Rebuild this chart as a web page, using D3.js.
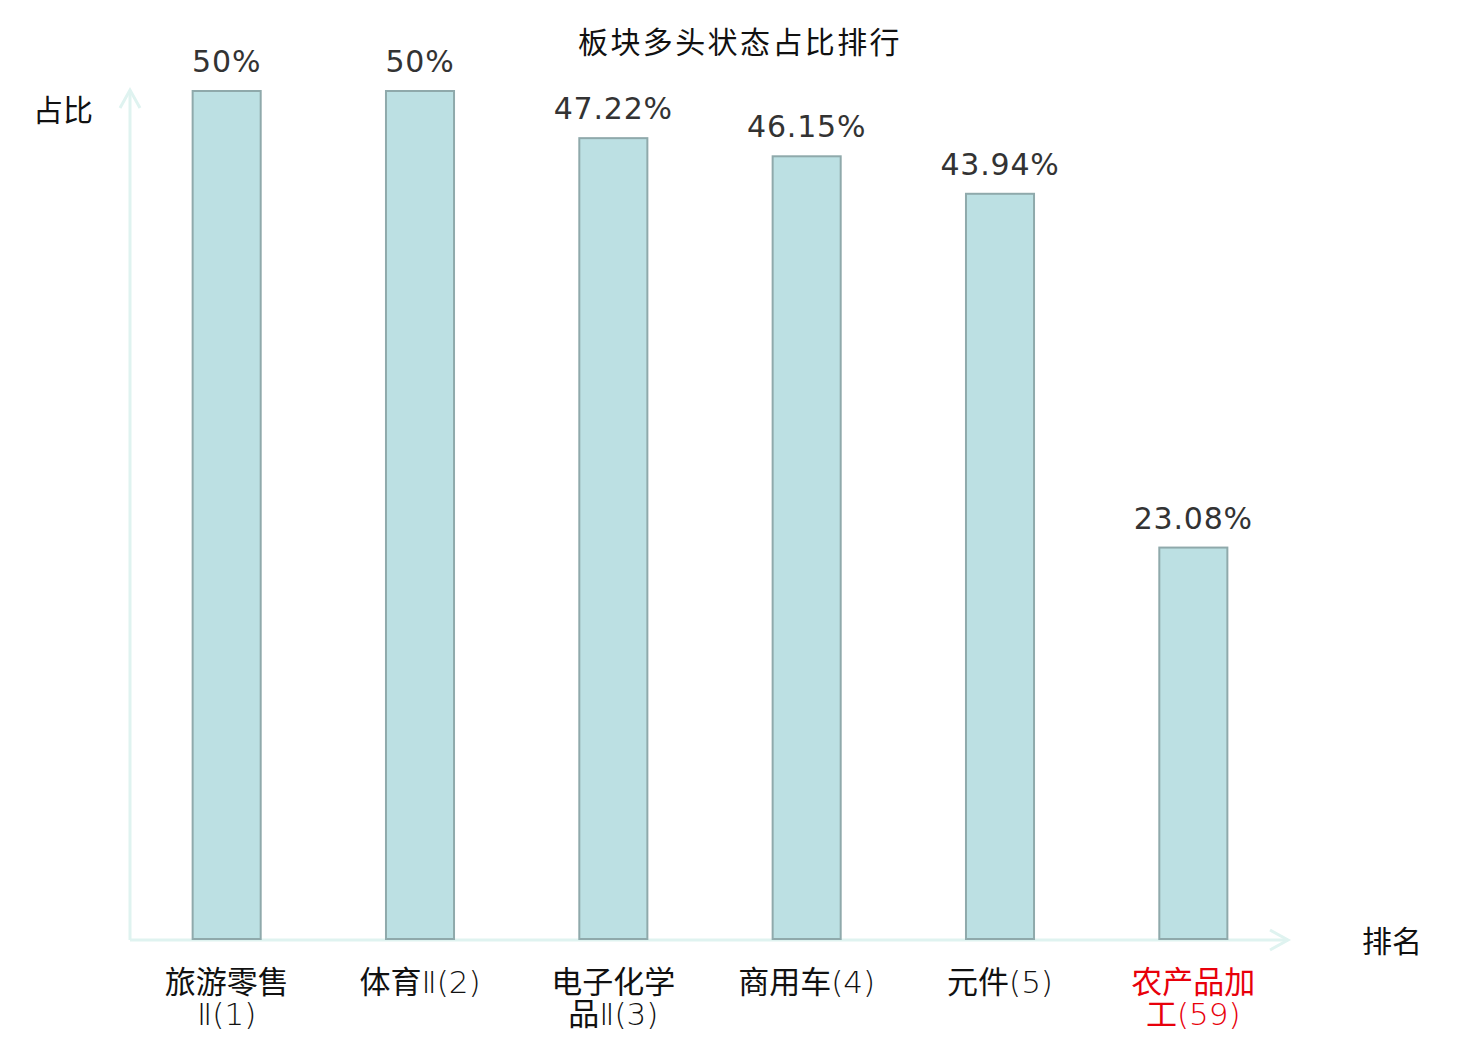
<!DOCTYPE html>
<html>
<head>
<meta charset="utf-8">
<script src="https://cdn.jsdelivr.net/npm/d3@7"></script>
<style>
  body { margin: 0; background: #fff; }
</style>
</head>
<body>
<svg id="chart" width="1480" height="1040"></svg>
<script>
// chart data
const categories = ["旅游零售Ⅱ(1)", "体育Ⅱ(2)", "电子化学品Ⅱ(3)", "商用车(4)", "元件(5)", "农产品加工(59)"];
const values = [50, 50, 47.22, 46.15, 43.94, 23.08];
const valueLabels = ["50%", "50%", "47.22%", "46.15%", "43.94%", "23.08%"];
const highlighted = ["农产品加工(59)"];

const svg = d3.select("#chart");
const axisColor = "#dff3f0";
const cjk = "'Noto Sans CJK SC', sans-serif";
const latin = "'DejaVu Sans', sans-serif";

const x = d3.scaleBand()
    .domain(categories)
    .range([130, 1290])
    .paddingInner(0.648)
    .paddingOuter(0.324);

const y = d3.scaleLinear()
    .domain([0, 50])
    .range([939, 91]);

// title
svg.append("text")
    .attr("x", 740).attr("y", 53)
    .attr("text-anchor", "middle")
    .style("font-family", cjk)
    .attr("font-size", 30)
    .attr("letter-spacing", 2.4)
    .attr("fill", "#111")
    .text("板块多头状态占比排行");

// axes (drawn by hand with arrows, no ticks)
const axes = svg.append("g")
    .attr("stroke", axisColor)
    .attr("stroke-width", 3)
    .attr("fill", "none");
axes.append("line").attr("x1", 130).attr("y1", 940).attr("x2", 1288).attr("y2", 940);
axes.append("path").attr("d", "M1270,930 L1288,940 L1270,950");
axes.append("line").attr("x1", 130).attr("y1", 940).attr("x2", 130).attr("y2", 90);
axes.append("path").attr("d", "M120,108 L130,90 L140,108");

svg.append("text")
    .attr("x", 63).attr("y", 121)
    .attr("text-anchor", "middle")
    .style("font-family", cjk)
    .attr("font-size", 30)
    .attr("fill", "#111")
    .text("占比");

svg.append("text")
    .attr("x", 1392).attr("y", 952)
    .attr("text-anchor", "middle")
    .style("font-family", cjk)
    .attr("font-size", 30)
    .attr("fill", "#111")
    .text("排名");

// bars
const data = categories.map((c, i) => ({ name: c, value: values[i], label: valueLabels[i] }));

svg.append("g").selectAll("rect")
    .data(data)
    .join("rect")
    .attr("x", d => x(d.name))
    .attr("y", d => y(d.value))
    .attr("width", x.bandwidth())
    .attr("height", d => y(0) - y(d.value))
    .attr("fill", "#bce0e3")
    .attr("stroke", "#8fa9ab")
    .attr("stroke-width", 2);

svg.append("g").selectAll("text")
    .data(data)
    .join("text")
    .attr("x", d => x(d.name) + x.bandwidth() / 2)
    .attr("y", d => y(d.value) - 19)
    .attr("text-anchor", "middle")
    .style("font-family", latin)
    .attr("font-size", 30)
    .attr("letter-spacing", 0.8)
    .attr("fill", "#333")
    .text(d => d.label);

// category labels, wrapped after 4 characters
const lab = svg.append("g").selectAll("text")
    .data(data)
    .join("text")
    .attr("text-anchor", "middle")
    .attr("font-size", 31)
    .attr("fill", d => highlighted.includes(d.name) ? "#e8000b" : "#111");

lab.each(function (d) {
    const cx = x(d.name) + x.bandwidth() / 2;
    const t = d3.select(this);
    const lines = d.name.length > 7 ? [d.name.slice(0, 4), d.name.slice(4)] : [d.name];
    lines.forEach((s, i) => {
        // split into CJK run and the rest (light latin)
        const parts = s.match(/[\u4e00-\u9fff]+|[^\u4e00-\u9fff]+/g);
        parts.forEach((p, j) => {
            const isCjk = /[\u4e00-\u9fff]/.test(p);
            const ts = t.append("tspan")
                .style("font-family", isCjk ? cjk : latin)
                .style("font-weight", isCjk ? 400 : 200)
                .text(p);
            if (j === 0) ts.attr("x", cx).attr("y", 993 + i * 32);
        });
    });
});
</script>
</body>
</html>
